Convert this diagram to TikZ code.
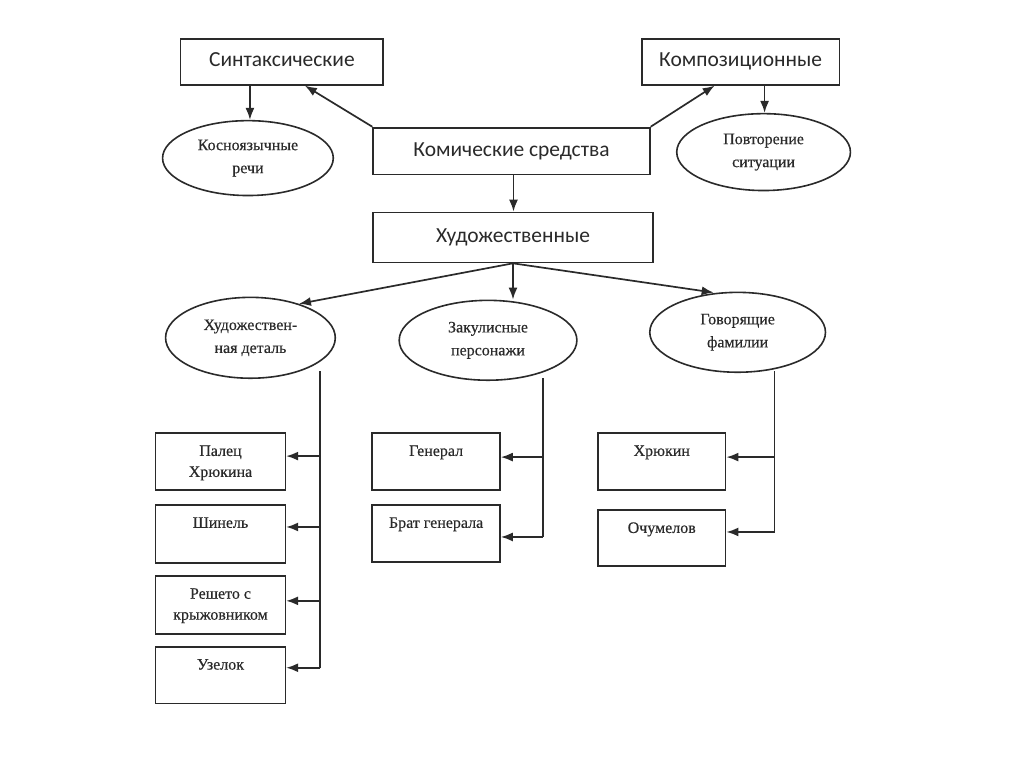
\documentclass[tikz,border=0pt]{standalone}
\usepackage{fontspec}
\setmainfont{Liberation Serif}[FakeBold=0.35]
\newfontfamily\topfont{Carlito}
\usetikzlibrary{shapes.geometric,arrows.meta}
\definecolor{ink}{HTML}{2A2A2A}
\tikzset{
  every path/.style={draw=ink,line width=1.7pt},
  arr/.style={-{Latex[length=12pt,width=9pt]}},
  bigbox/.style={draw=ink,line width=1.8pt,rectangle,inner sep=0pt,text height=14pt,text depth=4pt,font=\topfont\fontsize{21.5}{24}\selectfont,text=ink},
  oval/.style={draw=ink,line width=1.6pt,ellipse,inner sep=0pt,align=center,font=\fontsize{16}{23}\selectfont,text=ink},
  smallbox/.style={draw=ink,line width=1.6pt,rectangle,inner sep=0pt,minimum width=130pt},
  intext/.style={anchor=north,yshift=-9pt,align=center,font=\fontsize{16}{21}\selectfont,text=ink}
}
\begin{document}
\begin{tikzpicture}[x=1pt,y=-1pt]
\useasboundingbox (0,0) rectangle (1024,767);
\fill[white] (0,0) rectangle (1024,767);
% top boxes
\node[bigbox,minimum width=203pt,minimum height=46pt] (synt) at (281.5,61) {Синтаксические};
\node[bigbox,minimum width=198pt,minimum height=46pt] (komp) at (741,61) {Композиционные};
\node[bigbox,minimum width=277pt,minimum height=47pt] (kom) at (511.5,150.5) {Комические средства};
\node[bigbox,minimum width=280pt,minimum height=50pt] (hud) at (513,237) {Художественные};
% top ellipses
\node[oval,minimum width=171pt,minimum height=75pt] (kosn) at (247.5,157.5) {Косноязычные\\речи};
\node[oval,minimum width=174pt,minimum height=77pt] (povt) at (764,151.5) {Повторение\\ситуации};
% middle ellipses
\node[oval,minimum width=170pt,minimum height=81pt] (det) at (250,337.5) {Художествен-\\ная деталь};
\node[oval,minimum width=178pt,minimum height=80pt] (zak) at (488,340) {Закулисные\\персонажи};
\node[oval,minimum width=176pt,minimum height=80pt] (gov) at (738,332) {Говорящие\\фамилии};
% bottom boxes left
\node[smallbox,minimum height=57pt,label={[intext]north:Палец\\Хрюкина}] (b1) at (220,461.5) {};
\node[smallbox,minimum height=58pt,label={[intext]north:Шинель}] (b2) at (220,534) {};
\node[smallbox,minimum height=58pt,label={[intext]north:Решето с\\крыжовником}] (b3) at (220,605) {};
\node[smallbox,minimum height=57pt,label={[intext]north:Узелок}] (b4) at (220,675.5) {};
% bottom boxes middle
\node[smallbox,minimum width=128pt,minimum height=57pt,label={[intext]north:Генерал}] (c1) at (436,461.5) {};
\node[smallbox,minimum width=128pt,minimum height=57pt,label={[intext]north:Брат генерала}] (c2) at (436,533.5) {};
% bottom boxes right
\node[smallbox,minimum width=128pt,minimum height=57pt,label={[intext]north:Хрюкин}] (d1) at (662,461.5) {};
\node[smallbox,minimum width=128pt,minimum height=56pt,label={[intext]north:Очумелов}] (d2) at (662,538) {};
% top connectors
\draw[arr] (kom.north west) -- ([xshift=23pt]synt.south);
\draw[arr] (kom.north east) -- ([xshift=-26pt]komp.south);
\draw[arr] ([xshift=2pt]synt.south -| kosn.north) -- ([xshift=2pt]kosn.north);
\draw[arr] ([xshift=24pt]komp.south) -- ([xshift=24pt]komp.south |- povt.north);
\draw[arr] ([xshift=2pt]kom.south) -- ([xshift=2pt]kom.south |- hud.north);
% artistic branch connectors
\draw[arr] (hud.south) -- (det.35);
\draw[arr] (hud.south) -- (hud.south |- zak.north);
\draw[arr] (hud.south) -- ([xshift=-24pt,yshift=-1pt]gov.north);
% trunks
\coordinate (tl) at (320,371);
\coordinate (tm) at (543,378);
\coordinate (tr) at (775,371);
\draw (tl) -- (tl |- 0,668);
\draw[arr] (tl |- 0,456) -- (b1.east |- 0,456);
\draw[arr] (tl |- 0,527) -- (b2.east |- 0,527);
\draw[arr] (tl |- 0,601) -- (b3.east |- 0,601);
\draw[arr] (tl |- 0,668) -- (b4.east |- 0,668);
\draw (tm) -- (tm |- 0,537);
\draw[arr] (tm |- 0,457) -- (c1.east |- 0,457);
\draw[arr] (tm |- 0,537) -- (c2.east |- 0,537);
\draw (tr) -- (tr |- 0,532);
\draw[arr] (tr |- 0,457) -- (d1.east |- 0,457);
\draw[arr] (tr |- 0,532) -- (d2.east |- 0,532);
\end{tikzpicture}
\end{document}
